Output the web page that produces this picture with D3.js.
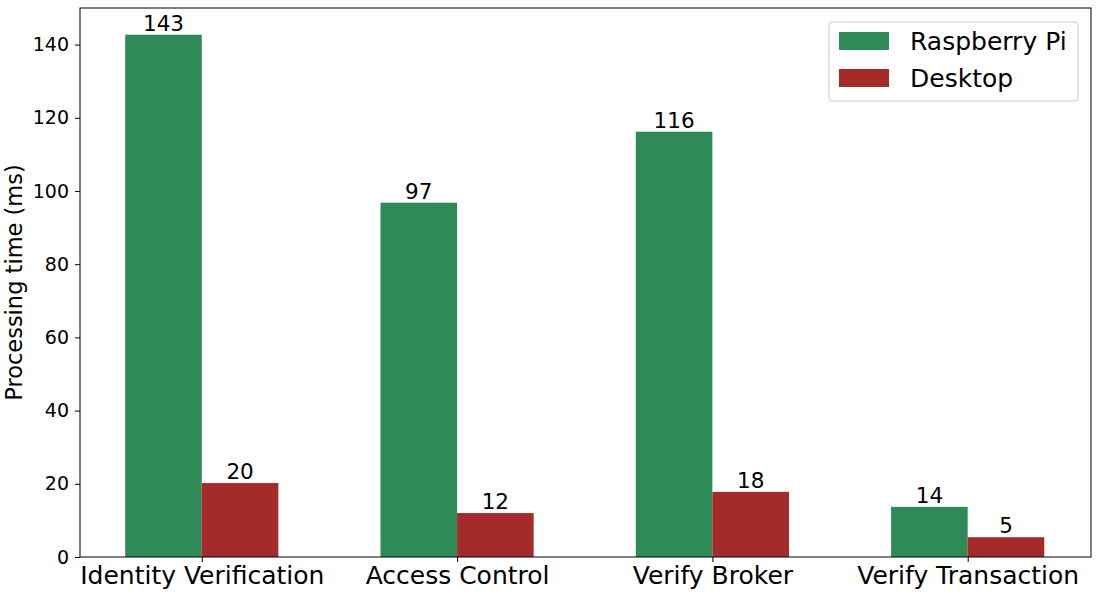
<!DOCTYPE html>
<html>
<head>
<meta charset="utf-8">
<script src="https://cdn.jsdelivr.net/npm/d3@7"></script>
<style>
  body { margin: 0; background: #fff; }
  svg text { font-family: "DejaVu Sans", sans-serif; fill: #000; }
</style>
</head>
<body>
<div id="chart"></div>
<script>
// Processing time per operation, Raspberry Pi vs Desktop
const categories = ['Identity Verification', 'Access Control', 'Verify Broker', 'Verify Transaction'];
const seriesNames = ['Raspberry Pi', 'Desktop'];
const raspberryValues = [142.7, 96.8, 116.2, 13.7];
const desktopValues = [20.2, 12.0, 17.8, 5.4];
const yTicks = [0, 20, 40, 60, 80, 100, 120, 140];
const colors = ['#2e8b57', '#a52a2a'];

const W = 1101, H = 595;
const margin = { top: 8, right: 10, bottom: 38, left: 80 };
const width = W - margin.left - margin.right;
const height = H - margin.top - margin.bottom;

const svg = d3.select('#chart').append('svg')
  .attr('width', W).attr('height', H);
const g = svg.append('g').attr('transform', `translate(${margin.left},${margin.top})`);

const barW = 0.3;
const x = d3.scaleLinear().domain([-0.477, 3.483]).range([0, width]);
const y = d3.scaleLinear().domain([0, 150]).range([height, 0]);

const series = [raspberryValues, desktopValues];

series.forEach((vals, s) => {
  const off = s === 0 ? -barW : 0;
  g.selectAll(`rect.s${s}`).data(vals).enter().append('rect')
    .attr('class', `s${s}`)
    .attr('x', (d, i) => x(i + off))
    .attr('width', x(barW) - x(0))
    .attr('y', d => y(d))
    .attr('height', d => y(0) - y(d))
    .attr('fill', colors[s]);
  g.selectAll(`text.l${s}`).data(vals).enter().append('text')
    .attr('class', `l${s}`)
    .attr('x', (d, i) => x(i + off + barW / 2))
    .attr('y', d => y(d) - 4)
    .attr('text-anchor', 'middle')
    .style('font-size', '21.5px')
    .text(d => Math.round(d));
});

// Axes
const yAxis = d3.axisLeft(y).tickValues(yTicks).tickSize(5).tickPadding(6);
const yG = g.append('g').call(yAxis);
yG.selectAll('text').style('font-size', '19px');

const xAxis = d3.axisBottom(x).tickValues(d3.range(categories.length))
  .tickFormat(i => categories[i]).tickSize(5).tickPadding(4);
const xG = g.append('g').attr('transform', `translate(0,${height})`).call(xAxis);
xG.selectAll('text').style('font-size', '25px');

[yG, xG].forEach(a => {
  a.select('.domain').remove();
  a.selectAll('line').attr('stroke', '#000');
});

// frame
g.append('rect').attr('width', width).attr('height', height)
  .attr('fill', 'none').attr('stroke', '#000').attr('stroke-width', 1);

// y label
svg.append('text')
  .attr('transform', `translate(22,${margin.top + height / 2}) rotate(-90)`)
  .attr('text-anchor', 'middle')
  .style('font-size', '22.5px')
  .text('Processing time (ms)');

// legend
const leg = svg.append('g').attr('transform', 'translate(829,22)');
leg.append('rect').attr('width', 249).attr('height', 79).attr('rx', 3)
  .attr('fill', '#fff').attr('fill-opacity', 0.8).attr('stroke', '#ccc');
seriesNames.forEach((name, s) => {
  leg.append('rect').attr('x', 10).attr('y', 10 + s * 37)
    .attr('width', 50).attr('height', 18).attr('fill', colors[s]);
  leg.append('text').attr('x', 81).attr('y', 28 + s * 37)
    .style('font-size', '25px').text(name);
});
</script>
</body>
</html>
